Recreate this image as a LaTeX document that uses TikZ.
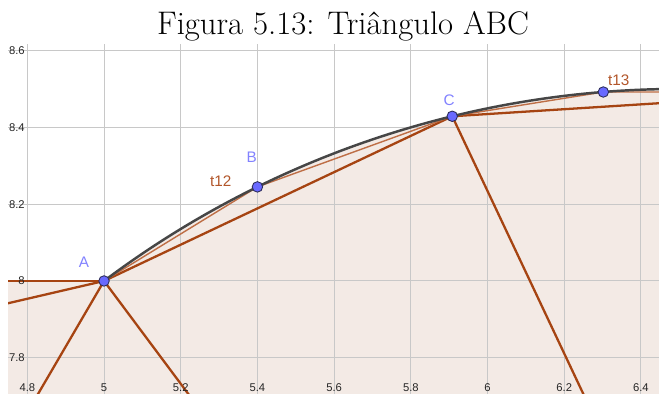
\documentclass[tikz,border=0pt]{standalone}
\usepackage{fontspec}
\newfontfamily\ggbsans{Liberation Sans}
\usepackage{tikz}
\usetikzlibrary{calc}
\definecolor{ggbGrid}{RGB}{200,200,200}
\definecolor{ggbBrown}{RGB}{166,68,18}
\definecolor{ggbChord}{RGB}{190,110,70}
\definecolor{ggbCurve}{RGB}{70,70,70}
\definecolor{ggbPoint}{RGB}{105,105,255}
\definecolor{ggbInk}{RGB}{45,45,90}
\definecolor{ggbPtLabel}{RGB}{130,130,255}
\definecolor{ggbTxt}{RGB}{178,86,42}
\definecolor{boxShade}{RGB}{243,234,229}

\begin{document}
\begin{tikzpicture}[x=7.67cm,y=7.68cm,
        grd/.style={draw=ggbGrid,line width=0.55pt},
        seg/.style={ggbBrown,line width=1.3pt},
        chd/.style={ggbChord,line width=0.8pt},
        crv/.style={ggbCurve,line width=1.4pt},
        pt/.style={circle,draw=ggbInk,fill=ggbPoint,minimum size=2.1mm,
                   inner sep=0pt,line width=0.5pt},
        plbl/.style={font=\ggbsans\fontsize{8.7}{10}\selectfont,text=ggbPtLabel},
        tlbl/.style={font=\ggbsans\fontsize{8.7}{10}\selectfont,text=ggbTxt},
        ax/.style={font=\ggbsans\fontsize{6.4}{7}\selectfont,text=black!85,
                   inner sep=0pt}]
  \useasboundingbox (4.7288,7.7057) rectangle (6.4472,8.7318);
  \node[font=\fontsize{18.6}{21}\selectfont,anchor=base] (title)
    at (5.6232,8.6406) {Figura 5.13: Triângulo ABC};
  \coordinate (A) at (5,8);
  \coordinate (B) at (5.4,8.245);
  \coordinate (C) at (5.908,8.4289);
  \coordinate (D) at (6.302,8.4921);
  \coordinate (lH) at (4.70,8);
  \coordinate (lS) at (4.70,7.9304);
  \coordinate (dL) at (4.8129,7.68);
  \coordinate (dR) at (5.239,7.68);
  \coordinate (cR) at (6.5,8.4662);
  \coordinate (cD) at (6.262,7.68);
  \coordinate (dE) at (6.5,8.4921);
  \begin{scope}
    \clip (4.7497,7.7057) rectangle (6.4472,8.6146);
    \fill[boxShade] (lH) -- (A) arc[start angle=126.87,end angle=88,radius=2.5]
      -- (6.5,7.6) -- (4.7,7.6) -- cycle;
    \foreach \i in {0,...,8}
      \draw[grd] ({4.8+0.2*\i},7.6) -- ++(0,1.1);
    \foreach \j in {0,...,4}
      \draw[grd] (4.7,{7.8+0.2*\j}) -- ++(1.8,0);
    \draw[seg] (lH) -- (A);
    \draw[seg] (lS) -- (A);
    \draw[seg] (dL) -- (A) -- (dR);
    \draw[seg] (A) -- (C) -- (cR);
    \draw[seg] (C) -- (cD);
    \draw[chd] (A) -- (B) -- (C) -- (D) -- (dE);
    \draw[crv] (A) arc[start angle=126.87,end angle=88,radius=2.5];
  \end{scope}
  \foreach \gx/\t in {4.8/4.8,5/5,5.2/5.2,5.4/5.4,5.6/5.6,5.8/5.8,6/6,6.2/6.2,6.4/6.4}
    \node[ax,anchor=north] (x\t) at (\gx,7.7344) {\t};
  \foreach \gy/\t in {7.8/7.8,8/8,8.2/8.2,8.4/8.4,8.6/8.6}
    \node[ax,anchor=east] (y\t) at (4.794,\gy) {\t};
  \foreach \p in {A,B,C,D}
    \node[pt] (p\p) at (\p) {};
  \node[plbl] (lA) at (4.9478,8.0495) {A};
  \node[plbl] (lB) at (5.3851,8.3221) {B};
  \node[plbl] (lC) at (5.8996,8.4714) {C};
  \node[tlbl] (t12) at (5.3043,8.2586) {t12};
  \node[tlbl] (t13) at (6.3421,8.5216) {t13};
\end{tikzpicture}
\end{document}
